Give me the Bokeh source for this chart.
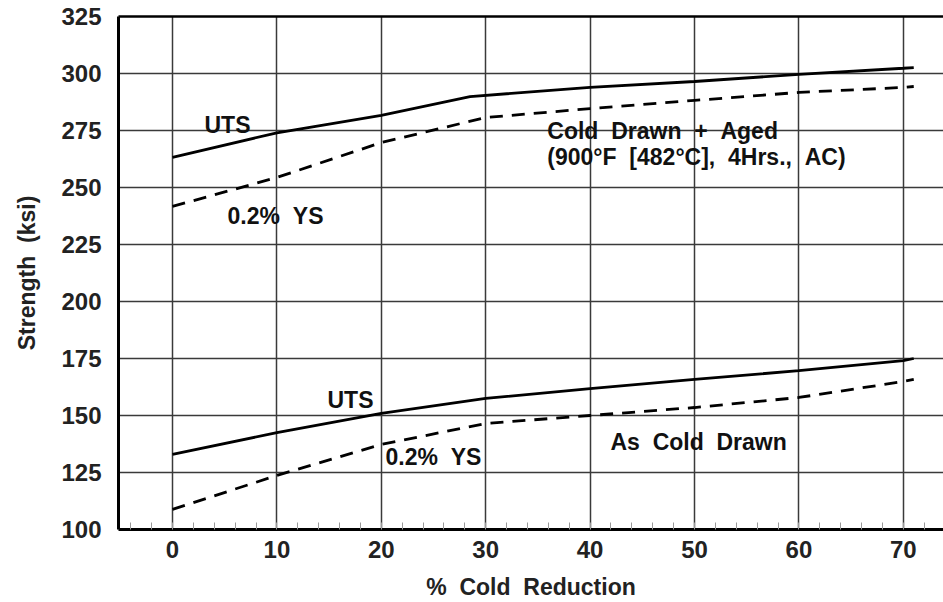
from bokeh.plotting import figure
from bokeh.models import FixedTicker, Range1d, LinearAxis, Label
from bokeh.embed import file_html
from bokeh.resources import INLINE

# Cold Drawn + Aged
aged_uts_x = [0, 10, 20, 28.5, 40, 50, 60, 70, 71]
aged_uts_y = [263.2, 274.0, 281.6, 289.9, 293.9, 296.5, 299.6, 302.3, 302.6]
aged_ys_x = [0, 10, 20, 30, 40, 50, 60, 70, 71]
aged_ys_y = [241.7, 254.4, 269.7, 280.7, 284.6, 288.2, 291.7, 293.9, 294.3]

# As Cold Drawn
drawn_uts_x = [0, 10, 20, 30, 40, 50, 60, 70, 71]
drawn_uts_y = [132.9, 142.5, 150.9, 157.5, 161.8, 165.8, 169.7, 174.1, 175.0]
drawn_ys_x = [0, 10, 20, 30, 40, 50, 60, 70, 71]
drawn_ys_y = [108.8, 123.7, 137.3, 146.5, 150.0, 153.5, 157.9, 164.9, 165.8]

x_ticks = [0, 10, 20, 30, 40, 50, 60, 70]
x_minor = [v for v in range(-4, 74, 2)]
y_ticks = [100, 125, 150, 175, 200, 225, 250, 275, 300, 325]

NB = "\u00a0"
def sp(s):
    return s.replace(" ", " " + NB)

FONT = "Liberation Sans"
TICK_SIZE = "24px"

p = figure(width=943, height=602, output_backend="svg", toolbar_location=None,
           x_range=Range1d(-5.17, 73.85), y_range=Range1d(100, 325),
           min_border_left=118, min_border_right=0, min_border_top=16,
           min_border_bottom=73)
p.outline_line_color = None
p.background_fill_color = "white"
p.border_fill_color = "white"

# grid
p.xgrid.ticker = FixedTicker(ticks=x_ticks)
p.ygrid.ticker = FixedTicker(ticks=y_ticks)
for g in (p.xgrid, p.ygrid):
    g.grid_line_color = "#3a3a3a"
    g.grid_line_width = 1.5

# x axis
xa = p.xaxis[0]
xa.ticker = FixedTicker(ticks=x_ticks, minor_ticks=x_minor)
xa.axis_line_width = 3
xa.axis_line_color = "black"
xa.major_tick_line_color = None
xa.major_tick_out = 0
xa.minor_tick_in = 7
xa.minor_tick_out = 0
xa.minor_tick_line_color = "#999999"
xa.major_label_text_font = FONT
xa.major_label_text_font_style = "bold"
xa.major_label_text_font_size = TICK_SIZE
xa.major_label_text_color = "#222222"
xa.major_label_standoff = 11
xa.axis_label = sp("% Cold Reduction")
xa.axis_label_text_font = FONT
xa.axis_label_text_font_style = "bold"
xa.axis_label_text_font_size = "23px"
xa.axis_label_text_color = "#222222"
xa.axis_label_standoff = 13

# y axis
ya = p.yaxis[0]
ya.ticker = FixedTicker(ticks=y_ticks)
ya.axis_line_width = 3
ya.axis_line_color = "black"
ya.major_tick_line_color = None
ya.major_tick_out = 0
ya.minor_tick_line_color = None
ya.major_label_text_font = FONT
ya.major_label_text_font_style = "bold"
ya.major_label_text_font_size = TICK_SIZE
ya.major_label_text_color = "#222222"
ya.major_label_standoff = 17
ya.axis_label = sp("Strength (ksi)")
ya.axis_label_text_font = FONT
ya.axis_label_text_font_style = "bold"
ya.axis_label_text_font_size = "23px"
ya.axis_label_text_color = "#222222"
ya.axis_label_standoff = 18

# top border
top = LinearAxis(ticker=FixedTicker(ticks=[]), axis_line_width=2.5,
                 axis_line_color="black", major_tick_line_color=None,
                 minor_tick_line_color=None, major_label_text_font_size="0px")
p.add_layout(top, "above")

# curves
p.line(aged_uts_x, aged_uts_y, line_color="black", line_width=2.8)
p.line(aged_ys_x, aged_ys_y, line_color="black", line_width=2.8, line_dash="13 9")
p.line(drawn_uts_x, drawn_uts_y, line_color="black", line_width=2.8)
p.line(drawn_ys_x, drawn_ys_y, line_color="black", line_width=2.8, line_dash="13 9")

def lab(x, y, t, align="center"):
    p.add_layout(Label(x=x, y=y, text=sp(t), text_align=align, text_baseline="middle",
                       text_font=FONT, text_font_style="bold", text_font_size="23px",
                       text_color="#111111"))

lab(5.27, 277.2, "UTS")
lab(9.87, 237.7, "0.2% YS")
lab(35.9, 275.0, "Cold Drawn + Aged", "left")
lab(35.9, 263.2, "(900°F [482°C], 4Hrs., AC)", "left")
lab(17.05, 156.6, "UTS")
lab(25.0, 132.0, "0.2% YS")
lab(41.95, 138.2, "As Cold Drawn", "left")

open("out.html", "w").write(file_html(p, INLINE))
